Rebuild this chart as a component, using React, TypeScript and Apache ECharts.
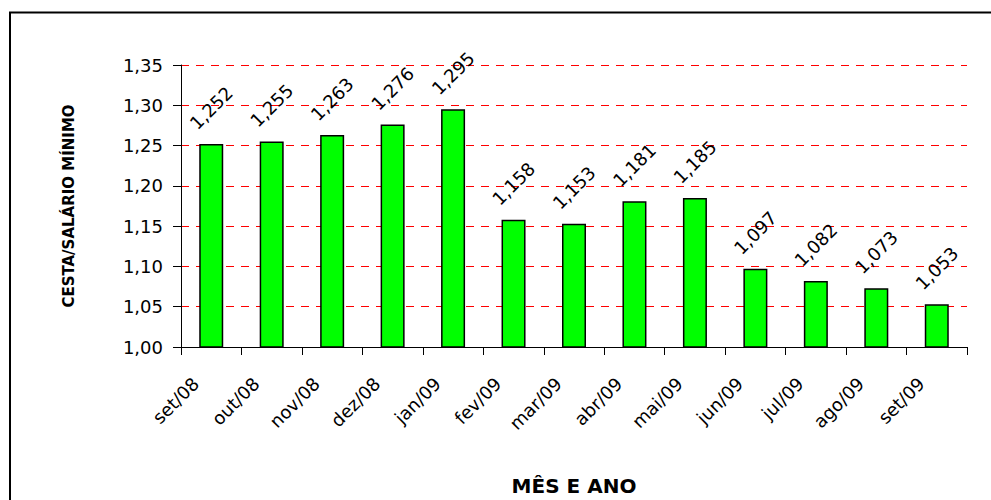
import React, { useEffect, useRef } from "react";
import * as echarts from "echarts";

const categories = ["set/08", "out/08", "nov/08", "dez/08", "jan/09", "fev/09", "mar/09", "abr/09", "mai/09", "jun/09", "jul/09", "ago/09", "set/09"];
const values = [1.252, 1.255, 1.263, 1.276, 1.295, 1.158, 1.153, 1.181, 1.185, 1.097, 1.082, 1.073, 1.053];
const yTitle = "CESTA/SALÁRIO MÍNIMO";
const xTitle = "MÊS E ANO";

const FONT = "DejaVu Sans";

export default function App() {
  const ref = useRef<HTMLDivElement>(null);
  useEffect(() => {
    if (!ref.current) return;
    const chart = echarts.init(ref.current, null, { renderer: "svg" });
    chart.setOption({
      animation: false,
      backgroundColor: "#ffffff",
      grid: { left: 181, right: 24, top: 65, bottom: 153, containLabel: false, outerBoundsMode: "none" },
      graphic: [
        {
          type: "rect",
          shape: { x: 10, y: 12.5, width: 1000, height: 600 },
          style: { fill: "none", stroke: "#000", lineWidth: 2 },
          silent: true,
        },
      ],
      xAxis: {
        type: "category",
        data: categories,
        boundaryGap: true,
        name: xTitle,
        nameLocation: "middle",
        nameGap: 129,
        nameTextStyle: { fontFamily: FONT, fontWeight: "bold", fontSize: 20, color: "#000" },
        axisLine: { show: true, lineStyle: { color: "#000", width: 1 } },
        axisTick: { show: true, length: 8, alignWithLabel: false, lineStyle: { color: "#000" } },
        axisLabel: {
          interval: 0,
          rotate: 45,
          margin: 18,
          padding: [0, 22, 0, 0],
          fontFamily: FONT,
          fontSize: 18,
          color: "#000",
        },
        splitLine: { show: false },
      },
      yAxis: {
        type: "value",
        min: 1,
        max: 1.35,
        interval: 0.05,
        name: yTitle,
        nameLocation: "middle",
        nameGap: 105,
        nameRotate: 90,
        nameTextStyle: { fontFamily: FONT, fontWeight: "bold", fontSize: 15, color: "#000" },
        axisLine: { show: true, lineStyle: { color: "#000", width: 1 } },
        axisTick: { show: true, length: 8, lineStyle: { color: "#000" } },
        axisLabel: {
          margin: 18,
          fontFamily: FONT,
          fontSize: 18,
          color: "#000",
          formatter: (v: number) => v.toFixed(2).replace(".", ","),
        },
        splitLine: { show: true, lineStyle: { color: "#ff0000", width: 1, type: [8, 7] } },
      },
      series: [
        {
          type: "bar",
          data: values,
          barWidth: 24,
          itemStyle: { color: "#00ff00", borderColor: "#000", borderWidth: 1.5 },
          label: {
            show: true,
            position: "top",
            distance: 36,
            rotate: 45,
            align: "center",
            verticalAlign: "middle",
            fontFamily: FONT,
            fontSize: 18,
            color: "#000",
            formatter: (p: any) => p.value.toFixed(3).replace(".", ","),
          },
        },
      ],
    });
    return () => chart.dispose();
  }, []);
  return <div ref={ref} style={{ position: "fixed", left: 0, top: 0, width: 991, height: 500 }} />;
}
